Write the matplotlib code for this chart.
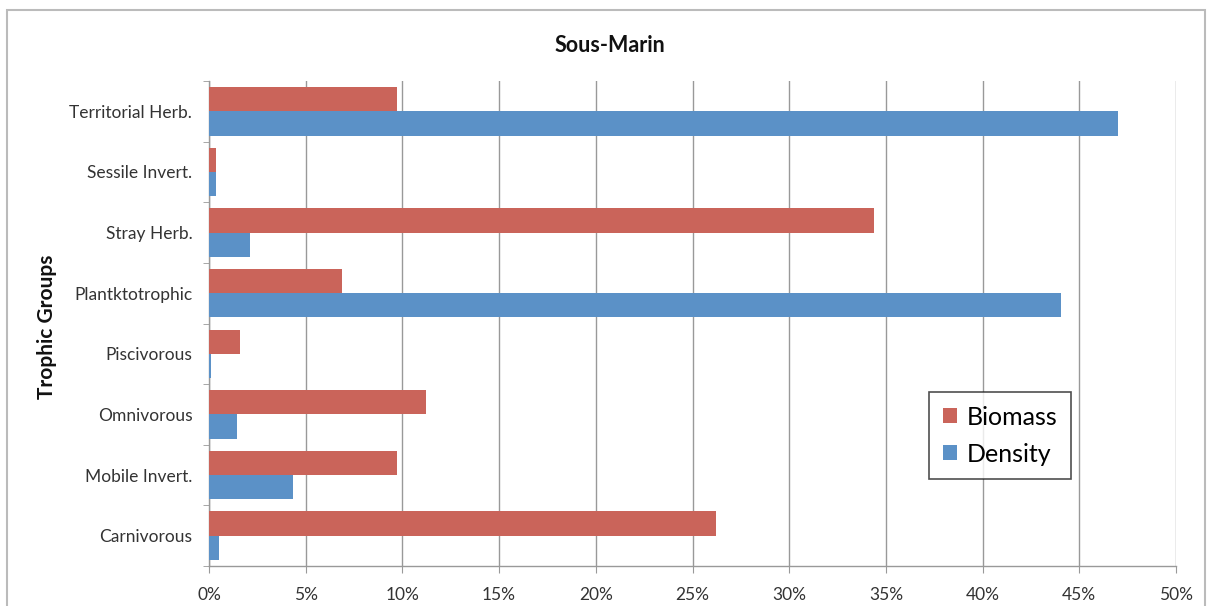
import matplotlib
matplotlib.use("Agg")
import matplotlib.pyplot as plt
from matplotlib.patches import Rectangle, Patch
from matplotlib.ticker import FuncFormatter, MultipleLocator
import numpy as np

plt.rcParams['font.family'] = ['Lato', 'DejaVu Sans']

categories = ["Territorial Herb.", "Sessile Invert.", "Stray Herb.", "Plantktotrophic",
              "Piscivorous", "Omnivorous", "Mobile Invert.", "Carnivorous"]
biomass = [9.7, 0.35, 34.4, 6.9, 1.6, 11.2, 9.7, 26.2]
density = [47.0, 0.35, 2.1, 44.05, 0.1, 1.45, 4.35, 0.5]

red = "#CA645A"
blue = "#5B91C7"
grid_gray = "#999999"
text_gray = "#333333"

W, H = 1210, 606
fig = plt.figure(figsize=(W / 100, H / 100), dpi=100)

# outer chart frame
fig.patches.append(Rectangle((7 / W, -0.05), (1205 - 7) / W, 1.05 - 10 / H,
                             transform=fig.transFigure, fill=False,
                             edgecolor="#BBBBBB", linewidth=1.5))

ax = fig.add_axes([209 / W, (H - 566) / H, (1176 - 209) / W, (566 - 81) / H])

n = len(categories)
pos = np.arange(n)[::-1]  # first category at top
h = 0.4
ax.barh(pos + h / 2, biomass, height=h, color=red, label="Biomass", zorder=3)
ax.barh(pos - h / 2, density, height=h, color=blue, label="Density", zorder=3)

ax.set_xlim(0, 50)
ax.set_ylim(-0.5, n - 0.5)

ax.xaxis.set_major_locator(MultipleLocator(5))
ax.xaxis.set_major_formatter(FuncFormatter(lambda v, p: f"{v:.0f}%"))
ax.grid(axis="x", color=grid_gray, linewidth=1.0, zorder=0)

ax.set_yticks(pos)
ax.set_yticklabels(categories)
ax.set_yticks(np.arange(n + 1) - 0.5, minor=True)
ax.tick_params(axis="y", which="major", length=0, pad=12, labelsize=12.5, labelcolor=text_gray)
ax.tick_params(axis="y", which="minor", length=4, color=grid_gray, direction="out")
ax.tick_params(axis="x", which="major", length=5, color=grid_gray, direction="out",
               labelsize=12.5, labelcolor=text_gray, pad=10)

for side in ("top", "right"):
    ax.spines[side].set_visible(False)
for side in ("left", "bottom"):
    ax.spines[side].set_color(grid_gray)
    ax.spines[side].set_linewidth(1.0)

fig.text(610 / W, 1 - 45 / H, "Sous-Marin", ha="center", va="center",
         fontsize=15.5, fontweight="bold", color="#111111")
fig.text(47 / W, 1 - 327 / H, "Trophic Groups", ha="center", va="center",
         rotation=90, fontsize=15, fontweight="bold", color="#111111")

handles = [Patch(facecolor=red), Patch(facecolor=blue)]
leg = ax.legend(handles, ["Biomass", "Density"], loc="upper left",
                bbox_to_anchor=((929 - 209) / (1176 - 209), (566 - 392) / (566 - 81)),
                frameon=True, fancybox=False, fontsize=18, handlelength=0.55,
                handleheight=0.55, handletextpad=0.4, labelspacing=0.55,
                borderpad=0.55, borderaxespad=0)
leg.get_frame().set_edgecolor("#222222")
leg.get_frame().set_linewidth(1.2)
leg.set_zorder(5)

fig.savefig("out.png", dpi=100, facecolor="white")
